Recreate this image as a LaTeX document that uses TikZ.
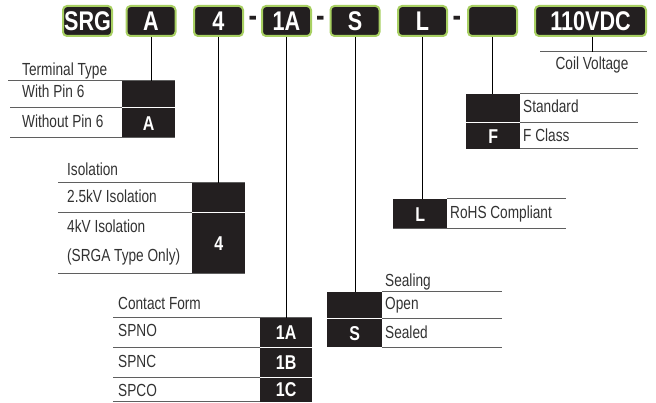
\documentclass[tikz,border=0pt]{standalone}
\usepackage{fontspec}
\setmainfont[FakeStretch=0.78]{Liberation Sans}
\newfontfamily\codefont[FakeStretch=0.8]{Liberation Sans}
\definecolor{codedark}{RGB}{35,31,32}
\definecolor{codegreen}{RGB}{168,208,98}
\definecolor{rulegray}{RGB}{95,95,95}
\definecolor{textgray}{RGB}{50,50,50}
\tikzset{
  codebox/.style={draw=codegreen, line width=2pt, fill=codedark, rounded corners=4pt,
    minimum width=49pt, minimum height=30pt, inner sep=0pt, text=white,
    font=\codefont\bfseries\fontsize{27}{27}\selectfont},
  cellbox/.style={fill=codedark, inner sep=0pt, anchor=north west, text=white,
    font=\codefont\bfseries\fontsize{20}{20}\selectfont},
  rowtext/.style={anchor=base west, inner sep=0pt, text=textgray,
    font=\fontsize{17.5}{19}\selectfont},
  hyph/.style={inner sep=0pt, text=codedark, font=\codefont\bfseries\fontsize{32}{32}\selectfont},
  rule/.style={draw=rulegray, line width=1pt},
  gap/.style={draw=white, line width=1pt},
  link/.style={draw=black, line width=0.9pt}
}

\begin{document}
\begin{tikzpicture}[x=1pt, y=-1pt]
  \useasboundingbox (0,0) rectangle (656,403);

  % part number boxes
  \node[codebox] (bSRG) at (87.5,21) {SRG};
  \node[codebox] (bA) at (151,21) {A};
  \node[codebox] (b4) at (218.5,21) {4};
  \node[hyph] (h1) at (253,21.5) {-};
  \node[codebox] (b1A) at (286.5,21) {1A};
  \node[hyph] (h2) at (320.5,21.5) {-};
  \node[codebox] (bS) at (355,21) {S};
  \node[codebox] (bL) at (422.5,21) {L};
  \node[hyph] (h3) at (457,21.5) {-};
  \node[codebox] (bF) at (492.5,21) {};
  \node[codebox, minimum width=111pt] (bV) at (590.5,21) {110VDC};

  % terminal type
  \node[rowtext] (ttT) at (22,76) {Terminal Type};
  \draw[rule] (8,81) -- (175,81);
  \node[cellbox, minimum width=53pt, minimum height=27pt] (tt1) at (122,81) {};
  \node[cellbox, minimum width=53pt, minimum height=30pt] (tt2) at (122,108) {A};
  \node[rowtext] at (22,98) {With Pin 6};
  \node[rowtext] at (22,128) {Without Pin 6};
  \draw[rule] (10,108) -- (122,108);
  \draw[gap] (122,108) -- (175,108);
  \draw[rule] (10,138) -- (175,138);
  \draw[link] (bA.south) -- (bA.south |- tt1.north);

  % isolation
  \node[rowtext] (isT) at (67,176) {Isolation};
  \draw[rule] (58,183) -- (245,183);
  \node[cellbox, minimum width=53pt, minimum height=30pt] (is1) at (192,183) {};
  \node[cellbox, minimum width=53pt, minimum height=61pt] (is2) at (192,213) {4};
  \node[rowtext] at (67,203) {2.5kV Isolation};
  \node[rowtext] at (67,233) {4kV Isolation};
  \node[rowtext] at (67,262) {(SRGA Type Only)};
  \draw[rule] (58,213) -- (192,213);
  \draw[gap] (192,213) -- (245,213);
  \draw[rule] (58,274) -- (245,274);
  \draw[link] (b4.south) -- (b4.south |- is1.north);

  % contact form
  \node[rowtext] (cfT) at (118,310) {Contact Form};
  \draw[rule] (113,318) -- (312,318);
  \node[cellbox, minimum width=52pt, minimum height=29pt] (cf1) at (260,318) {1A};
  \node[cellbox, minimum width=52pt, minimum height=30pt] (cf2) at (260,347) {1B};
  \node[cellbox, minimum width=52pt, minimum height=25pt] (cf3) at (260,377) {1C};
  \node[rowtext] at (118,337) {SPNO};
  \node[rowtext] at (118,367) {SPNC};
  \node[rowtext] at (118,396) {SPCO};
  \draw[rule] (113,347) -- (260,347);
  \draw[gap] (260,347) -- (312,347);
  \draw[rule] (113,377) -- (260,377);
  \draw[gap] (260,377) -- (312,377);
  \draw[rule] (113,401) -- (260,401);
  \draw[link] (b1A.south) -- (b1A.south |- cf1.north);

  % sealing
  \node[rowtext] (slT) at (385,287) {Sealing};
  \draw[rule] (382,292) -- (502,292);
  \node[cellbox, minimum width=55pt, minimum height=27pt] (sl1) at (327,292) {};
  \node[cellbox, minimum width=55pt, minimum height=28pt] (sl2) at (327,319) {S};
  \node[rowtext] at (385,310) {Open};
  \node[rowtext] at (385,338) {Sealed};
  \draw[gap] (327,319) -- (382,319);
  \draw[rule] (382,319) -- (502,319);
  \draw[rule] (382,347) -- (502,347);
  \draw[link] (bS.south) -- (bS.south |- sl1.north);

  % rohs
  \node[cellbox, minimum width=54pt, minimum height=30pt] (rh) at (393,199) {L};
  \node[rowtext] at (450,219) {RoHS Compliant};
  \draw[rule] (447,199) -- (566,199);
  \draw[rule] (393,229) -- (566,229);
  \draw[link] (bL.south) -- (bL.south |- rh.north);

  % coil class
  \node[cellbox, minimum width=54pt, minimum height=29pt] (fc1) at (466,94) {};
  \node[cellbox, minimum width=54pt, minimum height=26pt] (fc2) at (466,123) {F};
  \node[rowtext] at (523,113) {Standard};
  \node[rowtext] at (523,142) {F Class};
  \draw[rule] (520,94) -- (638,94);
  \draw[gap] (466,123) -- (520,123);
  \draw[rule] (520,123) -- (638,123);
  \draw[rule] (520,149) -- (638,149);
  \draw[link] (bF.south) -- (bF.south |- fc1.north);

  % coil voltage
  \coordinate (cv) at (592,52);
  \draw[rule] (540,52) -- (647,52);
  \node[rowtext, anchor=base] at (592,70) {Coil Voltage};
  \draw[link] (bV.south -| cv) -- (cv);
\end{tikzpicture}
\end{document}
